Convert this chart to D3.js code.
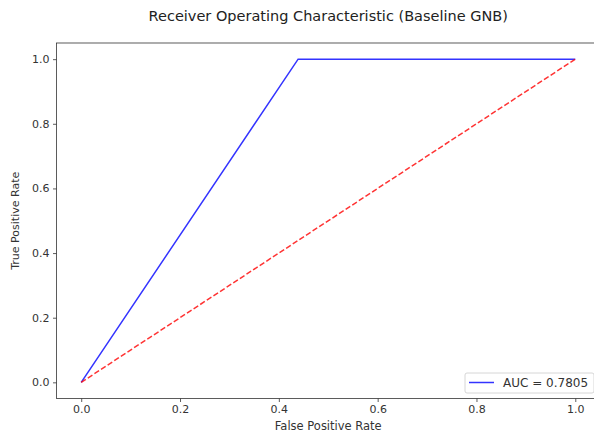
<!DOCTYPE html>
<html>
<head>
<meta charset="utf-8">
<script src="https://cdn.jsdelivr.net/npm/d3@7"></script>
<style>
  body { margin: 0; background: #fff; }
  svg { display: block; font-family: "DejaVu Sans", sans-serif; }
</style>
</head>
<body>
<svg id="chart" width="594" height="435"></svg>
<script>
// dati
var fpr = [0, 0.439, 1];
var tpr = [0, 1, 1];
var chance = [0, 1];
var ticks = [0, 0.2, 0.4, 0.6, 0.8, 1.0];
var aucLabel = 'AUC = 0.7805';

var svg = d3.select('#chart');
// bordi dell'area del grafico (non usare "top", e' gia' window.top)
var xLeft = 56.5, xRight = 600, yTop = 43, yBottom = 398.5;

var x = d3.scaleLinear().domain([-0.05, 1.05]).range([xLeft, xRight]);
var y = d3.scaleLinear().domain([-0.05, 1.05]).range([yBottom, yTop]);

// assi
var xAxis = d3.axisBottom(x).tickValues(ticks).tickFormat(d3.format('.1f')).tickSize(3.5).tickPadding(3);
var yAxis = d3.axisLeft(y).tickValues(ticks).tickFormat(d3.format('.1f')).tickSize(3.5).tickPadding(3.5);

var gx = svg.append('g').attr('transform', 'translate(0,' + yBottom + ')').call(xAxis);
var gy = svg.append('g').attr('transform', 'translate(' + xLeft + ',0)').call(yAxis);
[gx, gy].forEach(function (g) {
  g.select('.domain').remove();
  g.selectAll('line').attr('stroke', '#333').attr('stroke-width', 0.8);
  g.selectAll('text').attr('fill', '#333').style('font-size', '11px').style('font-family', '"DejaVu Sans", sans-serif');
});

// cornice
svg.append('rect')
  .attr('x', xLeft).attr('y', yTop)
  .attr('width', xRight - xLeft).attr('height', yBottom - yTop)
  .attr('fill', 'none').attr('stroke', '#333').attr('stroke-width', 0.8);

var line = d3.line().x(function (d) { return x(d[0]); }).y(function (d) { return y(d[1]); });

svg.append('path')
  .datum(d3.zip(fpr, tpr))
  .attr('d', line)
  .attr('fill', 'none').attr('stroke', '#0000ff').attr('stroke-opacity', 0.8).attr('stroke-width', 1.5);

svg.append('path')
  .datum(d3.zip(chance, chance))
  .attr('d', line)
  .attr('fill', 'none').attr('stroke', '#ff0000').attr('stroke-opacity', 0.8)
  .attr('stroke-width', 1.5).attr('stroke-dasharray', '5.5,2.4');

// titolo e etichette
svg.append('text')
  .attr('x', (xLeft + xRight) / 2).attr('y', 21)
  .attr('text-anchor', 'middle').attr('fill', '#222').style('font-size', '14.5px')
  .text('Receiver Operating Characteristic (Baseline GNB)');

svg.append('text')
  .attr('x', (xLeft + xRight) / 2).attr('y', 430)
  .attr('text-anchor', 'middle').attr('fill', '#333').style('font-size', '11.5px')
  .text('False Positive Rate');

svg.append('text')
  .attr('transform', 'translate(19,' + ((yTop + yBottom) / 2) + ') rotate(-90)')
  .attr('text-anchor', 'middle').attr('fill', '#333').style('font-size', '11px')
  .text('True Positive Rate');

// legenda
var leg = svg.append('g').attr('transform', 'translate(465,373)');
leg.append('rect')
  .attr('width', 129).attr('height', 20).attr('rx', 2)
  .attr('fill', '#fff').attr('fill-opacity', 0.8).attr('stroke', '#ccc').attr('stroke-width', 0.8);
leg.append('line')
  .attr('x1', 4).attr('x2', 29).attr('y1', 9.5).attr('y2', 9.5)
  .attr('stroke', '#0000ff').attr('stroke-opacity', 0.8).attr('stroke-width', 1.5);
leg.append('text')
  .attr('x', 38).attr('y', 14).attr('fill', '#333').style('font-size', '12px')
  .text(aucLabel);
</script>
</body>
</html>
